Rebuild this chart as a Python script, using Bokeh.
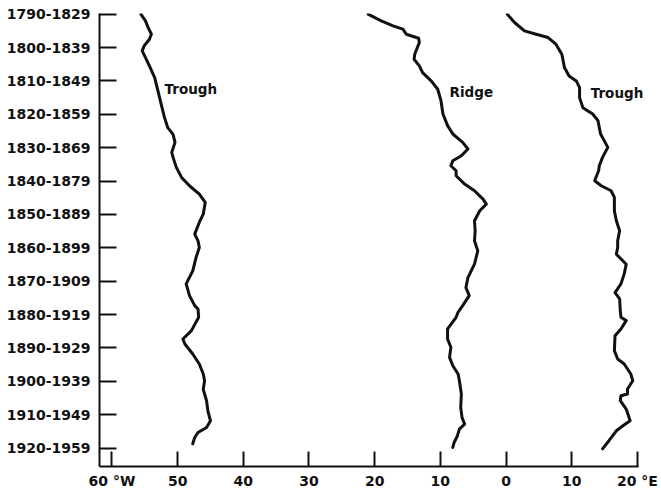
from bokeh.plotting import figure
from bokeh.models import Range1d, FixedTicker, Label
from bokeh.embed import file_html
from bokeh.resources import INLINE

# 40-year running periods (labelled by start year on the vertical axis)
period_start = [1790, 1800, 1810, 1820, 1830, 1840, 1850,
                1860, 1870, 1880, 1890, 1900, 1910, 1920]
period_labels = ["1790-1829", "1800-1839", "1810-1849", "1820-1859",
                 "1830-1869", "1840-1879", "1850-1889", "1860-1899",
                 "1870-1909", "1880-1919", "1890-1929", "1900-1939",
                 "1910-1949", "1920-1959"]

# Longitude ticks (negative = west, positive = east)
lon_ticks = [-60, -50, -40, -30, -20, -10, 0, 10, 20]
lon_tick_labels = ["60 °W", "50", "40", "30", "20", "10", "0", "10", "20 °E"]

# Western trough position
trough_w_year = [1790, 1792, 1794, 1796, 1797.5, 1799.5, 1801, 1803, 1805.5,
                 1809, 1813, 1817, 1821, 1824, 1826, 1828.4, 1831.4, 1832.9,
                 1835.9, 1838.9, 1841.4, 1843.9, 1846.4, 1849.9, 1851.9,
                 1855.9, 1857.9, 1859.9, 1862.9, 1866.9, 1870.8, 1874.3,
                 1877.3, 1878.3, 1880.8, 1884.8, 1887.3, 1888.8, 1891.8,
                 1894.8, 1897.8, 1899.8, 1902.4, 1905.8, 1908.8, 1911.8,
                 1913.8, 1915.3, 1916.8, 1918.7]
trough_w_lon = [-55.6, -54.9, -54.5, -54.0, -54.3, -55.1, -55.4, -54.9, -54.3,
                -53.5, -53.0, -52.5, -52.0, -51.5, -50.7, -50.4, -50.9, -50.7,
                -50.2, -49.4, -48.2, -46.7, -45.8, -46.1, -46.6,
                -47.4, -46.9, -46.7, -47.2, -47.7, -48.7, -48.2,
                -47.4, -46.9, -46.8, -47.9, -49.2, -48.9, -47.7,
                -46.7, -46.1, -45.9, -46.1, -45.6, -45.4, -45.0,
                -45.6, -46.9, -47.4, -47.7]

# Ridge position
ridge_year = [1790, 1792, 1793.5, 1794.5, 1796, 1797.2, 1798.5, 1802, 1803.5,
              1805.5, 1807.5, 1810, 1812.5, 1816, 1819.9, 1823.4, 1825.9,
              1828.4, 1830.4, 1832.4, 1833.9, 1835.4, 1836.9, 1838.4, 1840.9,
              1842.9, 1845.4, 1846.9, 1848.9, 1851.9, 1854.9, 1857.9, 1860.9,
              1864.9, 1868.9, 1871.9, 1874.3, 1877.3, 1879.3, 1880.8, 1884.3,
              1887.3, 1889.8, 1892.8, 1895.3, 1897.8, 1899.8, 1903.8, 1907.8,
              1910.8, 1912.8, 1914.3, 1916.3, 1918.3, 1919.8]
ridge_lon = [-21.0, -19.0, -17.2, -15.7, -15.2, -13.3, -13.2, -13.9, -14.0,
             -13.2, -12.7, -11.4, -10.4, -9.9, -9.6, -8.9, -8.1,
             -6.6, -5.8, -6.8, -8.1, -8.4, -7.6, -7.6, -6.3,
             -4.8, -3.5, -3.0, -4.0, -4.8, -4.7, -4.8, -4.3,
             -4.8, -5.8, -6.1, -5.6, -6.6, -7.3, -7.6, -8.9,
             -8.9, -8.4, -8.6, -8.1, -7.3, -7.1, -6.8, -6.9,
             -6.7, -6.3, -7.1, -7.4, -7.9, -8.1]

# Eastern trough position
trough_e_year = [1790, 1792.5, 1795, 1796, 1797, 1799, 1802, 1806, 1808.5,
                 1810, 1812, 1815, 1818, 1819.9, 1821.9, 1825.9, 1829.9,
                 1832.9, 1835.4, 1836.9, 1839.9, 1841.4, 1842.9, 1844.9,
                 1848.9, 1851.9, 1854.9, 1857.9, 1859.9, 1861.9, 1864.9,
                 1867.8, 1870.8, 1873.4, 1875.3, 1878.8, 1880.8, 1881.8,
                 1884.3, 1886.3, 1890.8, 1893.3, 1894.8, 1897.8, 1899.8,
                 1902.3, 1903.8, 1904.3, 1905.8, 1908.3, 1911.8, 1913.3,
                 1914.8, 1917.7, 1920.2]
trough_e_lon = [0.2, 1.3, 2.8, 4.6, 6.4, 7.6, 8.5, 8.9, 9.6,
                10.7, 11.2, 11.2, 11.7, 13.2, 14.0, 14.4, 15.5,
                14.7, 14.2, 14.1, 13.5, 14.5, 16.0, 16.5,
                16.5, 16.8, 17.3, 17.0, 17.0, 16.8, 18.3,
                18.0, 17.5, 16.6, 17.3, 17.4, 17.5, 18.3,
                17.5, 16.6, 16.5, 17.0, 18.0, 19.0, 19.3,
                18.5, 18.5, 17.5, 17.4, 18.3, 18.9, 17.8,
                16.8, 15.7, 14.7]

INK = "#111111"
FONT = "DejaVu Sans"
LON_MIN, LON_AXIS_END = -61.9, 20.1

# The frame runs a little past 20°E so the eastern label has room;
# the bottom axis line itself stops at 20°E.
p = figure(width=661, height=493,
           x_range=Range1d(LON_MIN, 22.0), y_range=Range1d(1925.5, 1789.8),
           output_backend="svg", toolbar_location=None,
           min_border_left=99, min_border_right=11,
           min_border_top=13, min_border_bottom=27)
p.outline_line_color = None
p.grid.visible = False
p.background_fill_color = "white"
p.border_fill_color = "white"

for xs, ys in ((trough_w_lon, trough_w_year),
               (ridge_lon, ridge_year),
               (trough_e_lon, trough_e_year)):
    p.line(x=xs, y=ys, line_width=3, line_color=INK,
           line_join="round", line_cap="round")

# Feature labels
for lx, ly, txt in ((-52.0, 1812.5, "Trough"),
                    (-8.6, 1813.2, "Ridge"),
                    (12.9, 1813.5, "Trough")):
    p.add_layout(Label(x=lx, y=ly, text=txt,
                       text_font=FONT, text_font_style="bold",
                       text_font_size="13.5px", text_color=INK,
                       text_align="left", text_baseline="alphabetic"))

# Vertical axis: periods
ya = p.yaxis[0]
ya.ticker = FixedTicker(ticks=period_start)
ya.major_label_overrides = {t: l for t, l in zip(period_start, period_labels)}
ya.major_tick_in = 17
ya.major_tick_out = 0
ya.minor_tick_line_color = None
ya.major_label_standoff = 9

# Horizontal axis: longitude
xa = p.xaxis[0]
xa.ticker = FixedTicker(ticks=lon_ticks)
xa.major_label_overrides = {t: l for t, l in zip(lon_ticks, lon_tick_labels)}
xa.bounds = (LON_MIN, LON_AXIS_END)
xa.major_tick_in = 15
xa.major_tick_out = 0
xa.minor_tick_line_color = None
xa.major_label_standoff = 6

for ax in (xa, ya):
    ax.axis_line_width = 2
    ax.axis_line_color = INK
    ax.major_tick_line_width = 2
    ax.major_tick_line_color = INK
    ax.major_label_text_font = FONT
    ax.major_label_text_font_style = "bold"
    ax.major_label_text_font_size = "14px"
    ax.major_label_text_color = INK

open("out.html", "w").write(file_html(p, INLINE))
